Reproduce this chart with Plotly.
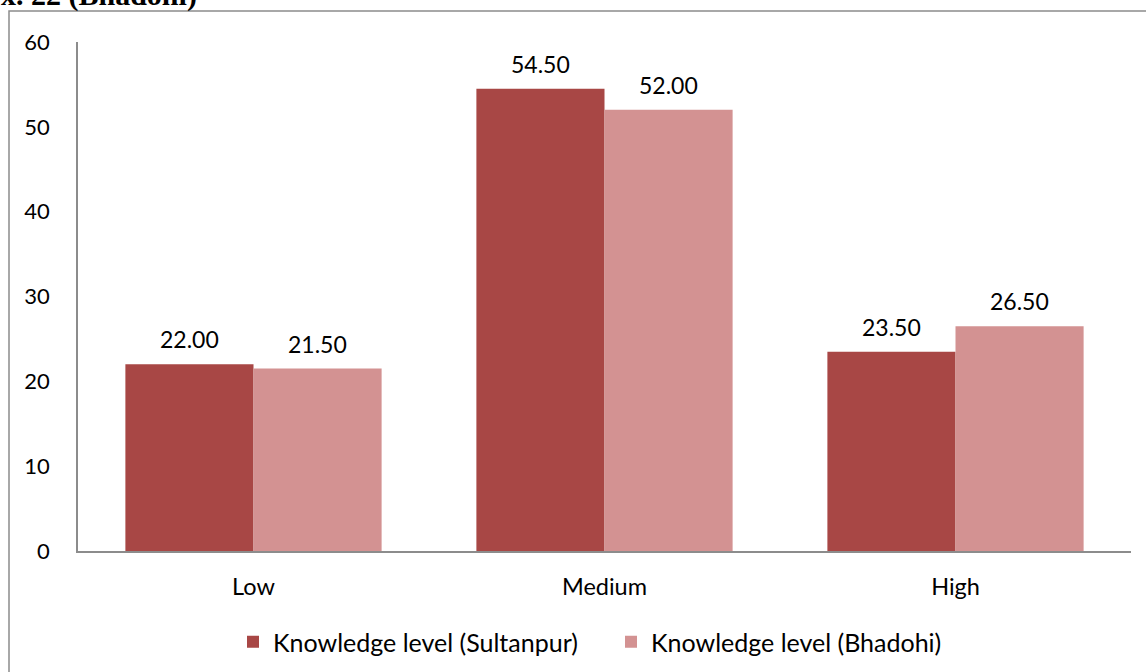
import plotly.graph_objects as go

categories = ["Low", "Medium", "High"]
sultanpur = [22.00, 54.50, 23.50]
bhadohi = [21.50, 52.00, 26.50]
series_names = ["Knowledge level (Sultanpur)", "Knowledge level (Bhadohi)"]
y_ticks = [0, 10, 20, 30, 40, 50, 60]

FONT = "Lato"
W, H = 1146, 672
L, R, T, B = 78, 15, 42, 121
pw, ph = W - L - R, H - T - B
BARGAP = 0.27
COLORS = ["#A84745", "#D39292"]

fig = go.Figure()
for name, vals, col in [(series_names[0], sultanpur, COLORS[0]),
                        (series_names[1], bhadohi, COLORS[1])]:
    fig.add_trace(go.Bar(
        x=categories, y=vals, name=name,
        marker=dict(color=col, line=dict(width=0)),
    ))

# data labels above bars
bar_px = pw / len(categories) * (1 - BARGAP) / 2
for i, vals in enumerate([sultanpur, bhadohi]):
    shift = (i - 0.5) * bar_px
    for c, v in zip(categories, vals):
        fig.add_annotation(x=c, y=v, text=f"{v:.2f}", showarrow=False,
                           xshift=shift, yshift=25, yanchor="middle",
                           font=dict(family=FONT, size=23, color="#000000"))

def px_x(p):
    return (p - L) / pw

def px_y(p):
    return 1 - (p - T) / ph

fig.update_layout(
    width=W, height=H,
    margin=dict(l=L, r=R, t=T, b=B, autoexpand=False),
    paper_bgcolor="white", plot_bgcolor="white",
    barmode="group", bargap=BARGAP, bargroupgap=0,
    font=dict(family=FONT, size=22, color="#000000"),
    showlegend=True,
    legend=dict(orientation="h", x=px_x(611), xanchor="center",
                y=px_y(665), yanchor="bottom",
                font=dict(family=FONT, size=25, color="#000000"),
                itemwidth=30, entrywidth=333, traceorder="normal"),
    xaxis=dict(showline=True, linecolor="#8C8C8C", linewidth=1.5,
               ticks="", showgrid=False, tickfont=dict(size=23.5),
               ticklabelstandoff=14, automargin=False),
    yaxis=dict(range=[0, 60], tickvals=y_ticks, showline=True,
               linecolor="#8C8C8C", linewidth=1.5, ticks="",
               showgrid=False, zeroline=False, tickfont=dict(size=22),
               ticklabelstandoff=22, automargin=False),
)

# outer chart-area border (partially outside page)
fig.add_shape(type="rect", xref="paper", yref="paper",
              x0=px_x(9), x1=px_x(1200), y0=px_y(11), y1=px_y(800),
              line=dict(color="#8C8C8C", width=1.5), layer="below")

# cut-off caption above the chart
fig.add_annotation(text="<b>x. 22 (Bhadohi)</b>", xref="paper", yref="paper",
                   x=px_x(-1), xanchor="left", y=px_y(-5), yanchor="middle",
                   showarrow=False,
                   font=dict(family="Liberation Serif", size=30, color="#000000"))

fig.write_html("out.html")
